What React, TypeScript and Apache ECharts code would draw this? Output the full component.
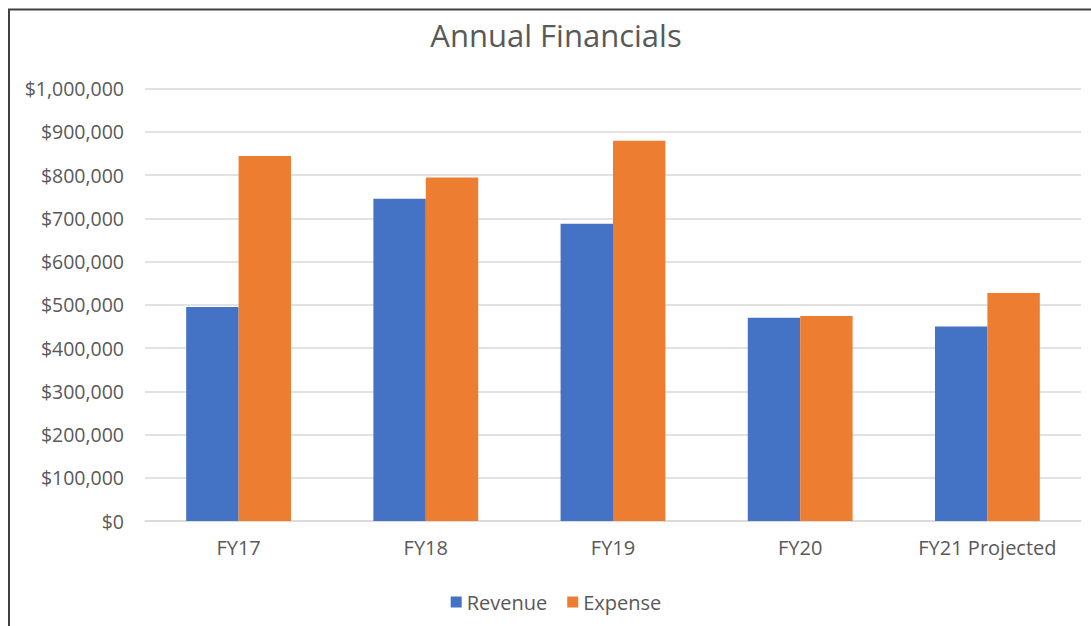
import React, { useEffect, useRef } from "react";
import * as echarts from "echarts";

const categories = ["FY17", "FY18", "FY19", "FY20", "FY21 Projected"];
const revenue = [495000, 745000, 687000, 470000, 450000];
const expense = [844000, 794000, 879000, 474000, 527000];
const seriesNames = ["Revenue", "Expense"];
const chartTitle = "Annual Financials";

const fmt = (v: number) => "$" + v.toLocaleString("en-US");

export default function App() {
  const ref = useRef<HTMLDivElement>(null);
  useEffect(() => {
    document.body.style.margin = "0";
    const chart = echarts.init(ref.current!, null, { renderer: "svg" });
    const font = "'Open Sans', 'Noto Sans', sans-serif";
    chart.setOption({
      animation: false,
      backgroundColor: "#ffffff",
      title: {
        text: chartTitle,
        left: "center",
        top: 14,
        textStyle: { fontFamily: font, fontSize: 31, fontWeight: "normal", color: "#595959" },
      },
      graphic: [
        {
          type: "rect",
          shape: { x: 9, y: 9.5, width: 1200, height: 700 },
          style: { fill: "none", stroke: "#404040", lineWidth: 2 },
          silent: true,
        },
      ],
      legend: {
        data: seriesNames,
        top: 587,
        left: "center",
        itemWidth: 11,
        itemHeight: 11,
        itemGap: 20,
        icon: "rect",
        textStyle: { fontFamily: font, fontSize: 20, color: "#595959" },
      },
      grid: { left: 145, right: 31, top: 88.5, bottom: 105 },
      xAxis: {
        type: "category",
        data: categories,
        axisLine: { show: true, lineStyle: { color: "#d9d9d9", width: 1.5 } },
        axisTick: { show: false },
        axisLabel: { fontFamily: font, fontSize: 20, color: "#595959", margin: 16 },
      },
      yAxis: {
        type: "value",
        min: 0,
        max: 1000000,
        interval: 100000,
        axisLine: { show: false },
        axisTick: { show: false },
        splitLine: { lineStyle: { color: "#d9d9d9", width: 1.5 } },
        axisLabel: { fontFamily: font, fontSize: 19.5, color: "#595959", margin: 21, formatter: fmt },
      },
      series: [
        {
          name: seriesNames[0],
          type: "bar",
          data: revenue,
          itemStyle: { color: "#4472C4" },
          barGap: "0%",
          barCategoryGap: "44%",
        },
        {
          name: seriesNames[1],
          type: "bar",
          data: expense,
          itemStyle: { color: "#ED7D31" },
          barGap: "0%",
          barCategoryGap: "44%",
        },
      ],
    });
    return () => chart.dispose();
  }, []);
  return (
    <div style={{ width: 1091, height: 626, overflow: "hidden", position: "relative" }}>
      <div ref={ref} style={{ width: 1112, height: 626 }} />
    </div>
  );
}
